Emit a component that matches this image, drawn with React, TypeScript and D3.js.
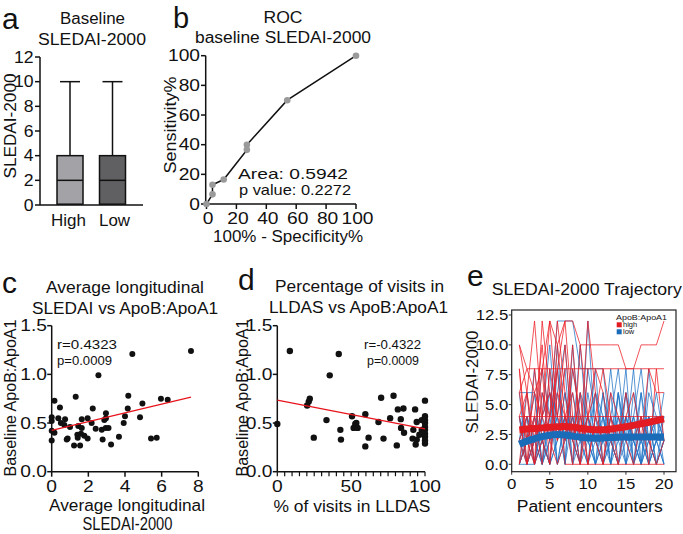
import React from 'react';
import * as d3 from 'd3';

// ---------- DATA ----------
// Panel a: box plot
const boxCategories = ['High', 'Low'];
const boxMin = [0, 0];
const boxQ1 = [0, 0];
const boxMedian = [2, 2];
const boxQ3 = [4, 4];
const boxMax = [10, 10];
const boxFills = ['#a3a3a7', '#606062'];
const aTicks = [0, 2, 4, 6, 8, 10, 12];

// Panel b: ROC curve
const rocX = [0, 4, 4, 11.5, 27, 27, 54, 100];
const rocY = [0, 6.5, 13, 16.5, 36.5, 40, 70, 100];
const bTicks = [0, 20, 40, 60, 80, 100];
const rocStats = ['Area: 0.5942', 'p value: 0.2272'];

// Panel c: scatter (average longitudinal SLEDAI vs ApoB:ApoA1)
const cX = [7.6, 4.4, 2.55, 0.15, 1.31, 4.18, 5.96, 6.33, 4.95, 2.24, 0.45, 4.15, 2.96, 0, 0.36, 0.73, 1.64, 1.96, 2.96, 4.0, 4.82, 0, 0.5, 0.69, 1.0, 1.45, 2.18, 2.87, 3.93, 2.95, 2.4, 2.73, 0, 0.15, 1.64, 1.6, 1.78, 1.4, 3.1, 0.87, 0.82, 1.42, 1.96, 2.78, 3.67, 0, 1.22, 1.55, 3.24, 5.42, 5.73];
const cY = [1.24, 1.21, 0.99, 0.73, 0.77, 0.78, 0.75, 0.74, 0.70, 0.65, 0.66, 0.65, 0.60, 0.56, 0.55, 0.54, 0.54, 0.55, 0.55, 0.57, 0.56, 0.52, 0.50, 0.48, 0.46, 0.47, 0.50, 0.53, 0.50, 0.45, 0.44, 0.43, 0.42, 0.40, 0.45, 0.39, 0.37, 0.38, 0.45, 0.34, 0.33, 0.35, 0.34, 0.33, 0.36, 0.32, 0.27, 0.27, 0.28, 0.34, 0.35];
const cFitX = [0, 7.6];
const cFitY = [0.425, 0.765];
const cXTicks = [0, 2, 4, 6, 8];
const yRatioTicks = [0, 0.5, 1.0, 1.5];

// Panel d: scatter (% visits in LLDAS vs ApoB:ApoA1)
const dX = [8.5, 41.6, 35.5, 0, 22, 21.3, 20.2, 24.7, 33.3, 42.7, 43.1, 50.6, 52.8, 51.7, 54.4, 53.5, 59.6, 61.8, 59.6, 68.5, 70.3, 71.9, 76.4, 78.7, 80.9, 81.6, 85.4, 83.6, 83.8, 85.8, 93.3, 94.4, 92.1, 91.6, 93.7, 100, 100, 100, 100, 100, 100, 100, 100, 100, 97.8, 96.2, 94.4, 100, 97.8];
const dY = [1.24, 1.21, 0.99, 0.49, 0.75, 0.72, 0.68, 0.35, 0.53, 0.43, 0.33, 0.57, 0.49, 0.45, 0.45, 0.50, 0.59, 0.35, 0.26, 0.51, 0.76, 0.34, 0.55, 0.78, 0.27, 0.64, 0.65, 0.54, 0.45, 0.40, 0.64, 0.51, 0.43, 0.34, 0.28, 0.73, 0.57, 0.53, 0.50, 0.46, 0.43, 0.39, 0.36, 0.32, 0.43, 0.38, 0.33, 0.29, 0.53];
const dFitX = [0, 100];
const dFitY = [0.736, 0.44];
const dMajorTicks = [0, 50, 100];

// Panel e: SLEDAI-2000 trajectories per patient (encounters 1..n)
const encounters = d3.range(1, 21);
const highPatients = [
  [10, 8, 6, 8, 12, 10, 12, 12, 10, 10, 10, 10, 10, 10, 8, 8, 10, 10, 10, 12],
  [6, 8, 8, 8, 8, 8, 8, 8, 8, 8, 8, 8, 8, 8, 8, 8, 8, 8, 8, 8],
  [4, 4, 4, 4, 4, 4, 4, 4, 4, 4, 4, 4, 4, 4, 4, 4, 4, 4, 4, 4],
  [8, 2, 0, 6, 4, 8, 0, 0, 0, 0, 0, 0, 0, 0, 0, 0, 0, 0, 0, 0],
  [2, 4, 0, 12, 6, 2, 4, 2, 0, 4, 8, 6, 2, 0, 4, 6, 2, 8, 6, 6],
  [8, 0, 4, 10, 2, 8, 12, 4, 0, 8],
  [0, 6, 2, 4, 12, 4, 10, 2, 6, 0, 4, 2],
  [4, 0, 8, 2, 0, 10, 4, 6, 2, 12, 6, 0, 4, 2, 6, 2, 4, 0, 8, 2],
  [6, 2, 4, 0, 8, 4, 2, 8, 4],
  [2, 0, 2, 8, 0, 6, 4, 0, 10, 4, 2, 0, 6, 4, 2, 0, 4, 2, 0, 2],
  [4, 6, 0, 2, 4, 12, 6, 2, 4, 0, 4, 8, 4, 0],
  [0, 2, 6, 4, 2, 0, 2, 10, 2, 4, 6],
  [10, 6, 12, 4, 6, 2, 8],
];
const lowPatients = [
  [6, 6, 6, 0, 4, 12, 12, 12, 8, 8, 8, 8, 2, 0, 4, 2, 0, 2, 4, 2],
  [2, 0, 4, 2, 0, 6, 10, 2, 0, 12, 2, 0, 4, 2, 8, 0, 2, 4, 0, 2],
  [0, 4, 2, 0, 8, 0, 4, 2, 6, 0, 4, 2, 0, 6, 2, 4, 0, 8, 2, 0],
  [4, 0, 0, 6, 2, 4, 0, 10, 2, 4, 0, 6, 2, 0, 4, 2, 6, 0, 4, 4],
  [0, 2, 0, 4, 10, 2, 6, 0, 4, 2, 8, 0, 2, 4, 0, 6, 2, 0, 2, 2],
  [2, 4, 0, 2, 0, 8, 2, 4, 0, 6, 2, 4, 0, 2, 6, 0, 4, 2, 0, 4],
  [0, 0, 2, 8, 4, 0, 2, 6, 2, 0, 6, 2, 4, 8, 2, 0, 2, 4, 2, 0],
  [4, 2, 6, 0, 2, 4, 8, 0, 2, 4, 0, 2, 6, 0, 2, 8, 0, 2, 6, 2],
  [2, 6, 0, 4, 6, 0, 4, 2, 10, 2, 0, 4, 2, 6, 0, 2, 4, 0, 2, 4],
  [0, 2, 4, 0, 2, 10, 0, 4, 2, 0, 2, 6, 0, 4, 2, 4, 8, 2, 0, 2],
  [6, 0, 2, 4, 0, 2, 6, 2, 0, 8, 4, 0, 2, 0, 6, 2, 0, 6, 4, 0],
  [2, 4, 0, 2, 6, 4, 0, 8, 4, 2, 0, 2, 8, 2, 0, 4, 2, 0, 2, 6],
  [0, 2, 8, 2, 0, 2, 4, 0, 6, 4, 2, 0, 4, 2, 4, 0, 6, 2, 4, 2],
  [4, 0, 2, 0, 4, 6, 2, 4, 0, 2, 6, 4, 0, 6, 2, 2, 0, 4, 0, 2],
];
const trendHigh = [2.88, 2.95, 3.0, 3.05, 3.1, 3.15, 3.18, 3.12, 3.02, 2.93, 2.88, 2.88, 2.95, 3.05, 3.15, 3.25, 3.38, 3.52, 3.66, 3.8];
const trendLow = [1.68, 1.95, 2.15, 2.32, 2.45, 2.5, 2.46, 2.36, 2.25, 2.19, 2.18, 2.2, 2.24, 2.27, 2.28, 2.29, 2.29, 2.29, 2.28, 2.28];
const eYTicks = [0, 2.5, 5, 7.5, 10, 12.5];
const eXTicks = [0, 5, 10, 15, 20];
const legendLabels = ['high', 'low'];

// ---------- STYLE ----------
const SANS = '"Liberation Sans", Arial, sans-serif';
const RED = '#ec1c24';
const BLUE = '#1f74c6';
const RED_THICK = '#e31b23';
const BLUE_THICK = '#1a6bb8';

type TP = { x: number; y: number; w?: number; size?: number; anchor?: string; rot?: boolean; sx?: number; fill?: string; children: any };
const T = ({ x, y, w, size = 16, anchor = 'middle', rot = false, sx = 1, fill = '#111', children }: TP) => {
  const tr = rot ? `translate(${x},${y}) rotate(-90)` : `translate(${x},${y}) scale(${w ? 1 : sx},1)`;
  return (
    <text transform={tr} fontSize={size} fontFamily={SANS} textAnchor={anchor as any} fill={fill}
      textLength={w} lengthAdjust={w ? 'spacingAndGlyphs' : undefined}>
      {children}
    </text>
  );
};

export default function App() {
  // Panel a scales
  const yA = d3.scaleLinear().domain([0, 12]).range([205, 57]);
  const xA = d3.scalePoint<string>().domain(boxCategories).range([70, 112.5]);
  // Panel b
  const xB = d3.scaleLinear().domain([0, 100]).range([206.5, 356]);
  const yB = d3.scaleLinear().domain([0, 100]).range([204, 55.7]);
  // Panel c
  const xC = d3.scaleLinear().domain([0, 8]).range([51.7, 198.3]);
  const yC = d3.scaleLinear().domain([0, 1.5]).range([471.7, 325.7]);
  // Panel d
  const xD = d3.scaleLinear().domain([0, 100]).range([277.3, 425]);
  const yD = d3.scaleLinear().domain([0, 1.5]).range([471.7, 325.7]);
  // Panel e
  const xE = d3.scaleLinear().domain([0, 20]).range([511.7, 664]);
  const yE = d3.scaleLinear().domain([0, 12.5]).range([464.3, 315]);
  const eBox = { x0: 511.7, x1: 676, y0: 310, y1: 471.7 };

  const rocLine = d3.line<number>().x((_, i) => xB(rocX[i])).y((_, i) => yB(rocY[i]));
  const lineE = d3.line<number>().x((_, i) => xE(encounters[i])).y((v) => yE(v));
  const trendLine = d3.line<number>().x((_, i) => xE(encounters[i])).y((v) => yE(v)).curve(d3.curveBasis);
  const dMinor = d3.range(0, 101, 5);

  return (
    <svg width={683} height={534} style={{ position: 'absolute', left: 0, top: 0, background: '#fff' }}>
      <rect width={683} height={534} fill="#fff" />

      {/* ================= Panel a ================= */}
      <g>
        <text x={2} y={29} fontSize={30} fontFamily={SANS} fill="#111">a</text>
        <T x={92.5} y={24} w={65}>Baseline</T>
        <T x={92} y={45} w={108}>SLEDAI-2000</T>
        <T x={15.5} y={126} w={105} rot>SLEDAI-2000</T>
        <line x1={40} x2={40} y1={yA(12)} y2={yA(0)} stroke="#111" strokeWidth={1.5} />
        <line x1={40} x2={143} y1={yA(0)} y2={yA(0)} stroke="#111" strokeWidth={1.5} />
        {aTicks.map((t) => (
          <g key={t}>
            <line x1={35} x2={40} y1={yA(t)} y2={yA(t)} stroke="#111" strokeWidth={1.5} />
            <T x={33.5} y={yA(t) + 5.7} anchor="end" sx={1.1}>{t}</T>
          </g>
        ))}
        {boxCategories.map((c, i) => {
          const cx = xA(c)!;
          return (
            <g key={c}>
              <line x1={cx} x2={cx} y1={yA(boxQ3[i])} y2={yA(boxMax[i])} stroke="#111" strokeWidth={1.5} />
              <line x1={cx - 10} x2={cx + 10} y1={yA(boxMax[i])} y2={yA(boxMax[i])} stroke="#111" strokeWidth={1.5} />
              <line x1={cx} x2={cx} y1={yA(boxMin[i])} y2={yA(boxQ1[i])} stroke="#111" strokeWidth={1.5} />
              <rect x={cx - 13} width={26} y={yA(boxQ3[i])} height={yA(boxQ1[i]) - yA(boxQ3[i]) - 0.8}
                fill={boxFills[i]} stroke="#111" strokeWidth={1.5} />
              <line x1={cx - 13} x2={cx + 13} y1={yA(boxMedian[i])} y2={yA(boxMedian[i])} stroke="#111" strokeWidth={1.5} />
              <T x={cx + (i === 0 ? -1.5 : 2)} y={226} w={i === 0 ? 35 : 31}>{c}</T>
            </g>
          );
        })}
      </g>

      {/* ================= Panel b ================= */}
      <g>
        <text x={173} y={28} fontSize={29} fontFamily={SANS} fill="#111">b</text>
        <T x={283} y={23} w={39}>ROC</T>
        <T x={283} y={43} w={176}>baseline SLEDAI-2000</T>
        <T x={175.5} y={125} w={97} rot>Sensitivity%</T>
        <T x={288} y={242} w={150}>100% - Specificity%</T>
        <line x1={205.7} x2={205.7} y1={yB(100)} y2={yB(0)} stroke="#111" strokeWidth={1.5} />
        <line x1={205.7} x2={xB(100)} y1={yB(0)} y2={yB(0)} stroke="#111" strokeWidth={1.5} />
        {bTicks.map((t) => (
          <g key={t}>
            <line x1={201} x2={205.7} y1={yB(t)} y2={yB(t)} stroke="#111" strokeWidth={1.5} />
            <T x={200} y={yB(t) + 5.7} anchor="end" sx={1.2}>{t}</T>
            <line x1={xB(t)} x2={xB(t)} y1={yB(0)} y2={yB(0) + 5} stroke="#111" strokeWidth={1.5} />
            <T x={xB(t) + 1.5} y={224} sx={1.2}>{t}</T>
          </g>
        ))}
        <path d={rocLine(rocX) || ''} fill="none" stroke="#111" strokeWidth={1.5} />
        {rocX.map((v, i) => (
          <circle key={i} cx={xB(v)} cy={yB(rocY[i])} r={3.3} fill="#9a9a9a" />
        ))}
        <T x={238} y={179} anchor="start" w={110} size={15}>{rocStats[0]}</T>
        <T x={239} y={195} anchor="start" w={112} size={15}>{rocStats[1]}</T>
      </g>

      {/* ================= Panel c ================= */}
      <g>
        <text x={2} y={293} fontSize={30} fontFamily={SANS} fill="#111">c</text>
        <T x={125} y={293} w={158}>Average longitudinal</T>
        <T x={125} y={314} w={186}>SLEDAI vs ApoB:ApoA1</T>
        <T x={16} y={398} w={157} rot>Baseline ApoB:ApoA1</T>
        <T x={127} y={511} w={156}>Average longitudinal</T>
        <T x={127.5} y={530} w={90} size={18}>SLEDAI-2000</T>
        <line x1={xC(0)} x2={xC(0)} y1={yC(1.5)} y2={yC(0)} stroke="#111" strokeWidth={1.5} />
        <line x1={xC(0)} x2={xC(8)} y1={yC(0)} y2={yC(0)} stroke="#111" strokeWidth={1.5} />
        {yRatioTicks.map((t) => (
          <g key={t}>
            <line x1={xC(0) - 4.5} x2={xC(0)} y1={yC(t)} y2={yC(t)} stroke="#111" strokeWidth={1.5} />
            <T x={47} y={yC(t) + 5.7} anchor="end" sx={1.2}>{d3.format('.1f')(t)}</T>
          </g>
        ))}
        {cXTicks.map((t) => (
          <g key={t}>
            <line x1={xC(t)} x2={xC(t)} y1={yC(0)} y2={yC(0) + 5} stroke="#111" strokeWidth={1.5} />
            <T x={xC(t)} y={491.5} sx={1.2}>{t}</T>
          </g>
        ))}
        {cX.map((v, i) => (
          <circle key={i} cx={xC(v)} cy={yC(cY[i])} r={3} fill="#111" />
        ))}
        <line x1={xC(cFitX[0])} x2={xC(cFitX[1])} y1={yC(cFitY[0])} y2={yC(cFitY[1])} stroke="#e8141c" strokeWidth={1.3} />
        <T x={57} y={349} anchor="start" w={60} size={12.5}>r=0.4323</T>
        <T x={57} y={365} anchor="start" w={55} size={12.5}>p=0.0009</T>
      </g>

      {/* ================= Panel d ================= */}
      <g>
        <text x={238} y={290} fontSize={30} fontFamily={SANS} fill="#111">d</text>
        <T x={359.5} y={292} w={169}>Percentage of visits in</T>
        <T x={358.5} y={313} w={179}>LLDAS vs ApoB:ApoA1</T>
        <T x={248} y={398} w={157} rot>Baseline ApoB:ApoA1</T>
        <T x={352} y={512} w={157}>% of visits in LLDAS</T>
        <line x1={xD(0)} x2={xD(0)} y1={yD(1.5)} y2={yD(0)} stroke="#111" strokeWidth={1.5} />
        <line x1={xD(0)} x2={xD(100)} y1={yD(0)} y2={yD(0)} stroke="#111" strokeWidth={1.5} />
        {yRatioTicks.map((t) => (
          <g key={t}>
            <line x1={xD(0) - 4.5} x2={xD(0)} y1={yD(t)} y2={yD(t)} stroke="#111" strokeWidth={1.5} />
            <T x={272.5} y={yD(t) + 5.7} anchor="end" sx={1.2}>{d3.format('.1f')(t)}</T>
          </g>
        ))}
        {dMinor.map((t) => (
          <line key={t} x1={xD(t)} x2={xD(t)} y1={yD(0)} y2={yD(0) + 4.5} stroke="#111" strokeWidth={1.2} />
        ))}
        {dMajorTicks.map((t) => (
          <T key={t} x={xD(t)} y={492} sx={1.2}>{t}</T>
        ))}
        {dX.map((v, i) => (
          <circle key={i} cx={xD(v)} cy={yD(dY[i])} r={3.2} fill="#111" />
        ))}
        <line x1={xD(dFitX[0])} x2={xD(dFitX[1])} y1={yD(dFitY[0])} y2={yD(dFitY[1])} stroke="#e8141c" strokeWidth={1.3} />
        <T x={364} y={349} anchor="start" w={57} size={12.5}>r=-0.4322</T>
        <T x={367} y={365} anchor="start" w={52} size={12.5}>p=0.0009</T>
      </g>

      {/* ================= Panel e ================= */}
      <g>
        <text x={467} y={286} fontSize={30} fontFamily={SANS} fill="#111">e</text>
        <T x={491.7} y={295} anchor="start" w={190}>SLEDAI-2000 Trajectory</T>
        <T x={478} y={382} w={103} rot>SLEDAI-2000</T>
        <T x={589.7} y={512} w={146}>Patient encounters</T>
        {eYTicks.map((t) => (
          <g key={t}>
            <line x1={eBox.x0 - 3} x2={eBox.x0} y1={yE(t)} y2={yE(t)} stroke="#333" strokeWidth={1} />
            <rect x={476} y={yE(t) - 6} width={32} height={12} fill="#fff" opacity={0.6} />
            <T x={508.3} y={yE(t) + 5.3} anchor="end" size={15} sx={1.12}>{d3.format('.1f')(t)}</T>
          </g>
        ))}
        {eXTicks.map((t) => (
          <g key={t}>
            <line x1={xE(t)} x2={xE(t)} y1={eBox.y1} y2={eBox.y1 + 3} stroke="#333" strokeWidth={1} />
            <T x={xE(t)} y={488.5} size={15} sx={1.12}>{t}</T>
          </g>
        ))}
        <g fill="none" strokeWidth={0.9} strokeLinejoin="round">
          {lowPatients.map((p, i) => (
            <path key={'l' + i} d={lineE(p) || ''} stroke={BLUE} opacity={0.85} />
          ))}
          {highPatients.map((p, i) => (
            <path key={'h' + i} d={lineE(p) || ''} stroke={RED} opacity={0.85} />
          ))}
        </g>
        <path d={trendLine(trendLow) || ''} fill="none" stroke={BLUE_THICK} strokeWidth={7} />
        <path d={trendLine(trendHigh) || ''} fill="none" stroke={RED_THICK} strokeWidth={7} />
        <rect x={eBox.x0} y={eBox.y0} width={eBox.x1 - eBox.x0} height={eBox.y1 - eBox.y0} fill="none" stroke="#222" strokeWidth={1.2} />
        <T x={616} y={320} anchor="start" w={51} size={7.5}>ApoB:ApoA1</T>
        {legendLabels.map((l, i) => (
          <g key={l}>
            <rect x={616.7} y={322.3 + i * 7} width={5} height={5} fill={i === 0 ? RED_THICK : BLUE_THICK} />
            <T x={623} y={327.3 + i * 7} anchor="start" size={6.8} sx={1.1}>{l}</T>
          </g>
        ))}
      </g>
    </svg>
  );
}
